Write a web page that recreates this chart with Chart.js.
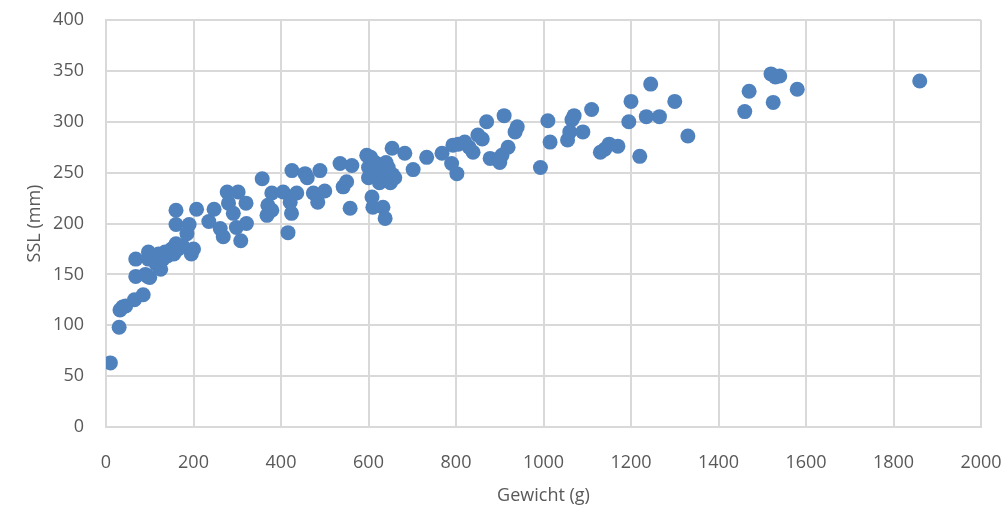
<!DOCTYPE html>
<html>
<head>
<meta charset="utf-8">
<script src="https://cdn.jsdelivr.net/npm/chart.js@4/dist/chart.umd.min.js"></script>
<style>
  html, body { margin: 0; padding: 0; background: #fff; }
  #wrap { width: 1008px; height: 515px; }
</style>
</head>
<body>
<div id="wrap"><canvas id="scatterChart" width="1008" height="515"></canvas></div>
<script>
// Gewicht (g) and SSL (mm)
const gewicht = [
  10, 30, 32, 38, 45, 65, 68, 68, 85, 90, 95, 100, 97, 97,
  110, 115, 120, 125, 130, 135, 140, 150, 155,
  160, 160, 160, 165, 175, 185, 190, 195, 200,
  207, 235, 247, 261, 268, 277, 280, 291, 298, 302, 308, 320, 321,
  357, 368, 370, 379, 379, 405, 416, 421, 424, 425, 436,
  455, 460, 474, 484, 489, 500,
  535, 542, 550, 558, 562, 596, 600, 600, 605, 608, 610, 615, 620, 625, 630, 633, 638, 640, 645, 650, 654, 655, 660, 683,
  702, 733, 768, 790, 793, 802, 805, 820, 830, 839, 850, 860, 870, 878, 895, 900, 905, 910, 919, 935, 940,
  993, 1010, 1015, 1055, 1060, 1065, 1070, 1090, 1110, 1130, 1140, 1150, 1170,
  1195, 1200, 1220, 1235, 1245, 1265, 1300, 1330,
  1460, 1470, 1520, 1525, 1530, 1540, 1580,
  1860
];
const ssl = [
  63, 98, 115, 118, 119, 125, 148, 165, 130, 150, 148, 147, 165, 172,
  165, 160, 170, 155, 165, 172, 168, 175, 170,
  180, 199, 213, 175, 178, 190, 199, 170, 175,
  214, 202, 214, 195, 187, 231, 220, 210, 196, 231, 183, 220, 200,
  244, 208, 218, 230, 213, 231, 191, 221, 210, 252, 230,
  249, 245, 230, 221, 252, 232,
  259, 236, 241, 215, 257, 267, 255, 245, 265, 226, 216, 260, 248, 240, 250, 216, 205, 260, 255, 240, 274, 248, 245, 269,
  253, 265, 269, 259, 277, 249, 278, 280, 275, 270, 287, 283, 300, 264, 263, 260, 267, 306, 275, 290, 295,
  255, 301, 280, 282, 290, 302, 306, 290, 312, 270, 273, 278, 276,
  300, 320, 266, 305, 337, 305, 320, 286,
  310, 330, 347, 319, 344, 345, 332,
  340
];
const xTicks = { min: 0, max: 2000, step: 200 };
const yTicks = { min: 0, max: 400, step: 50 };

const points = gewicht.map((g, i) => ({ x: g, y: ssl[i] }));

const gridColor = '#d9d9d9';
const textColor = '#595959';
const fontFamily = "'Open Sans', 'Liberation Sans', sans-serif";

const ctx = document.getElementById('scatterChart').getContext('2d');
new Chart(ctx, {
  type: 'scatter',
  data: {
    datasets: [{
      label: 'SSL',
      data: points,
      backgroundColor: '#4f81bd',
      borderColor: '#4f81bd',
      pointRadius: 7.5,
      pointHoverRadius: 7.5,
      borderWidth: 0
    }]
  },
  options: {
    responsive: false,
    animation: false,
    layout: { padding: { left: 24, right: 27, top: 20, bottom: 8 } },
    plugins: {
      legend: { display: false },
      tooltip: { enabled: false }
    },
    scales: {
      x: {
        type: 'linear',
        min: xTicks.min,
        max: xTicks.max,
        ticks: {
          stepSize: xTicks.step,
          color: textColor,
          font: { family: fontFamily, size: 18 },
          padding: 25,
          callback: (v) => String(v)
        },
        grid: { color: gridColor, lineWidth: 2, drawTicks: false },
        border: { display: true, color: gridColor, width: 2 },
        title: {
          display: true,
          text: 'Gewicht (g)',
          color: textColor,
          font: { family: fontFamily, size: 18 },
          padding: { top: 0, bottom: 0 }
        },
        afterFit: (scale) => {
          scale.height = 80;
          scale.paddingLeft = 0;
          scale.paddingRight = 0;
        }
      },
      y: {
        type: 'linear',
        min: yTicks.min,
        max: yTicks.max,
        ticks: {
          stepSize: yTicks.step,
          color: textColor,
          font: { family: fontFamily, size: 18 },
          padding: 22
        },
        grid: { color: gridColor, lineWidth: 2, drawTicks: false },
        border: { display: true, color: gridColor, width: 2 },
        title: {
          display: true,
          text: 'SSL (mm)',
          color: textColor,
          font: { family: fontFamily, size: 18 },
          padding: { top: 0, bottom: 0 }
        },
        afterFit: (scale) => {
          scale.width = 82;
          scale.paddingTop = 0;
          scale.paddingBottom = 0;
        }
      }
    }
  }
});
</script>
</body>
</html>
